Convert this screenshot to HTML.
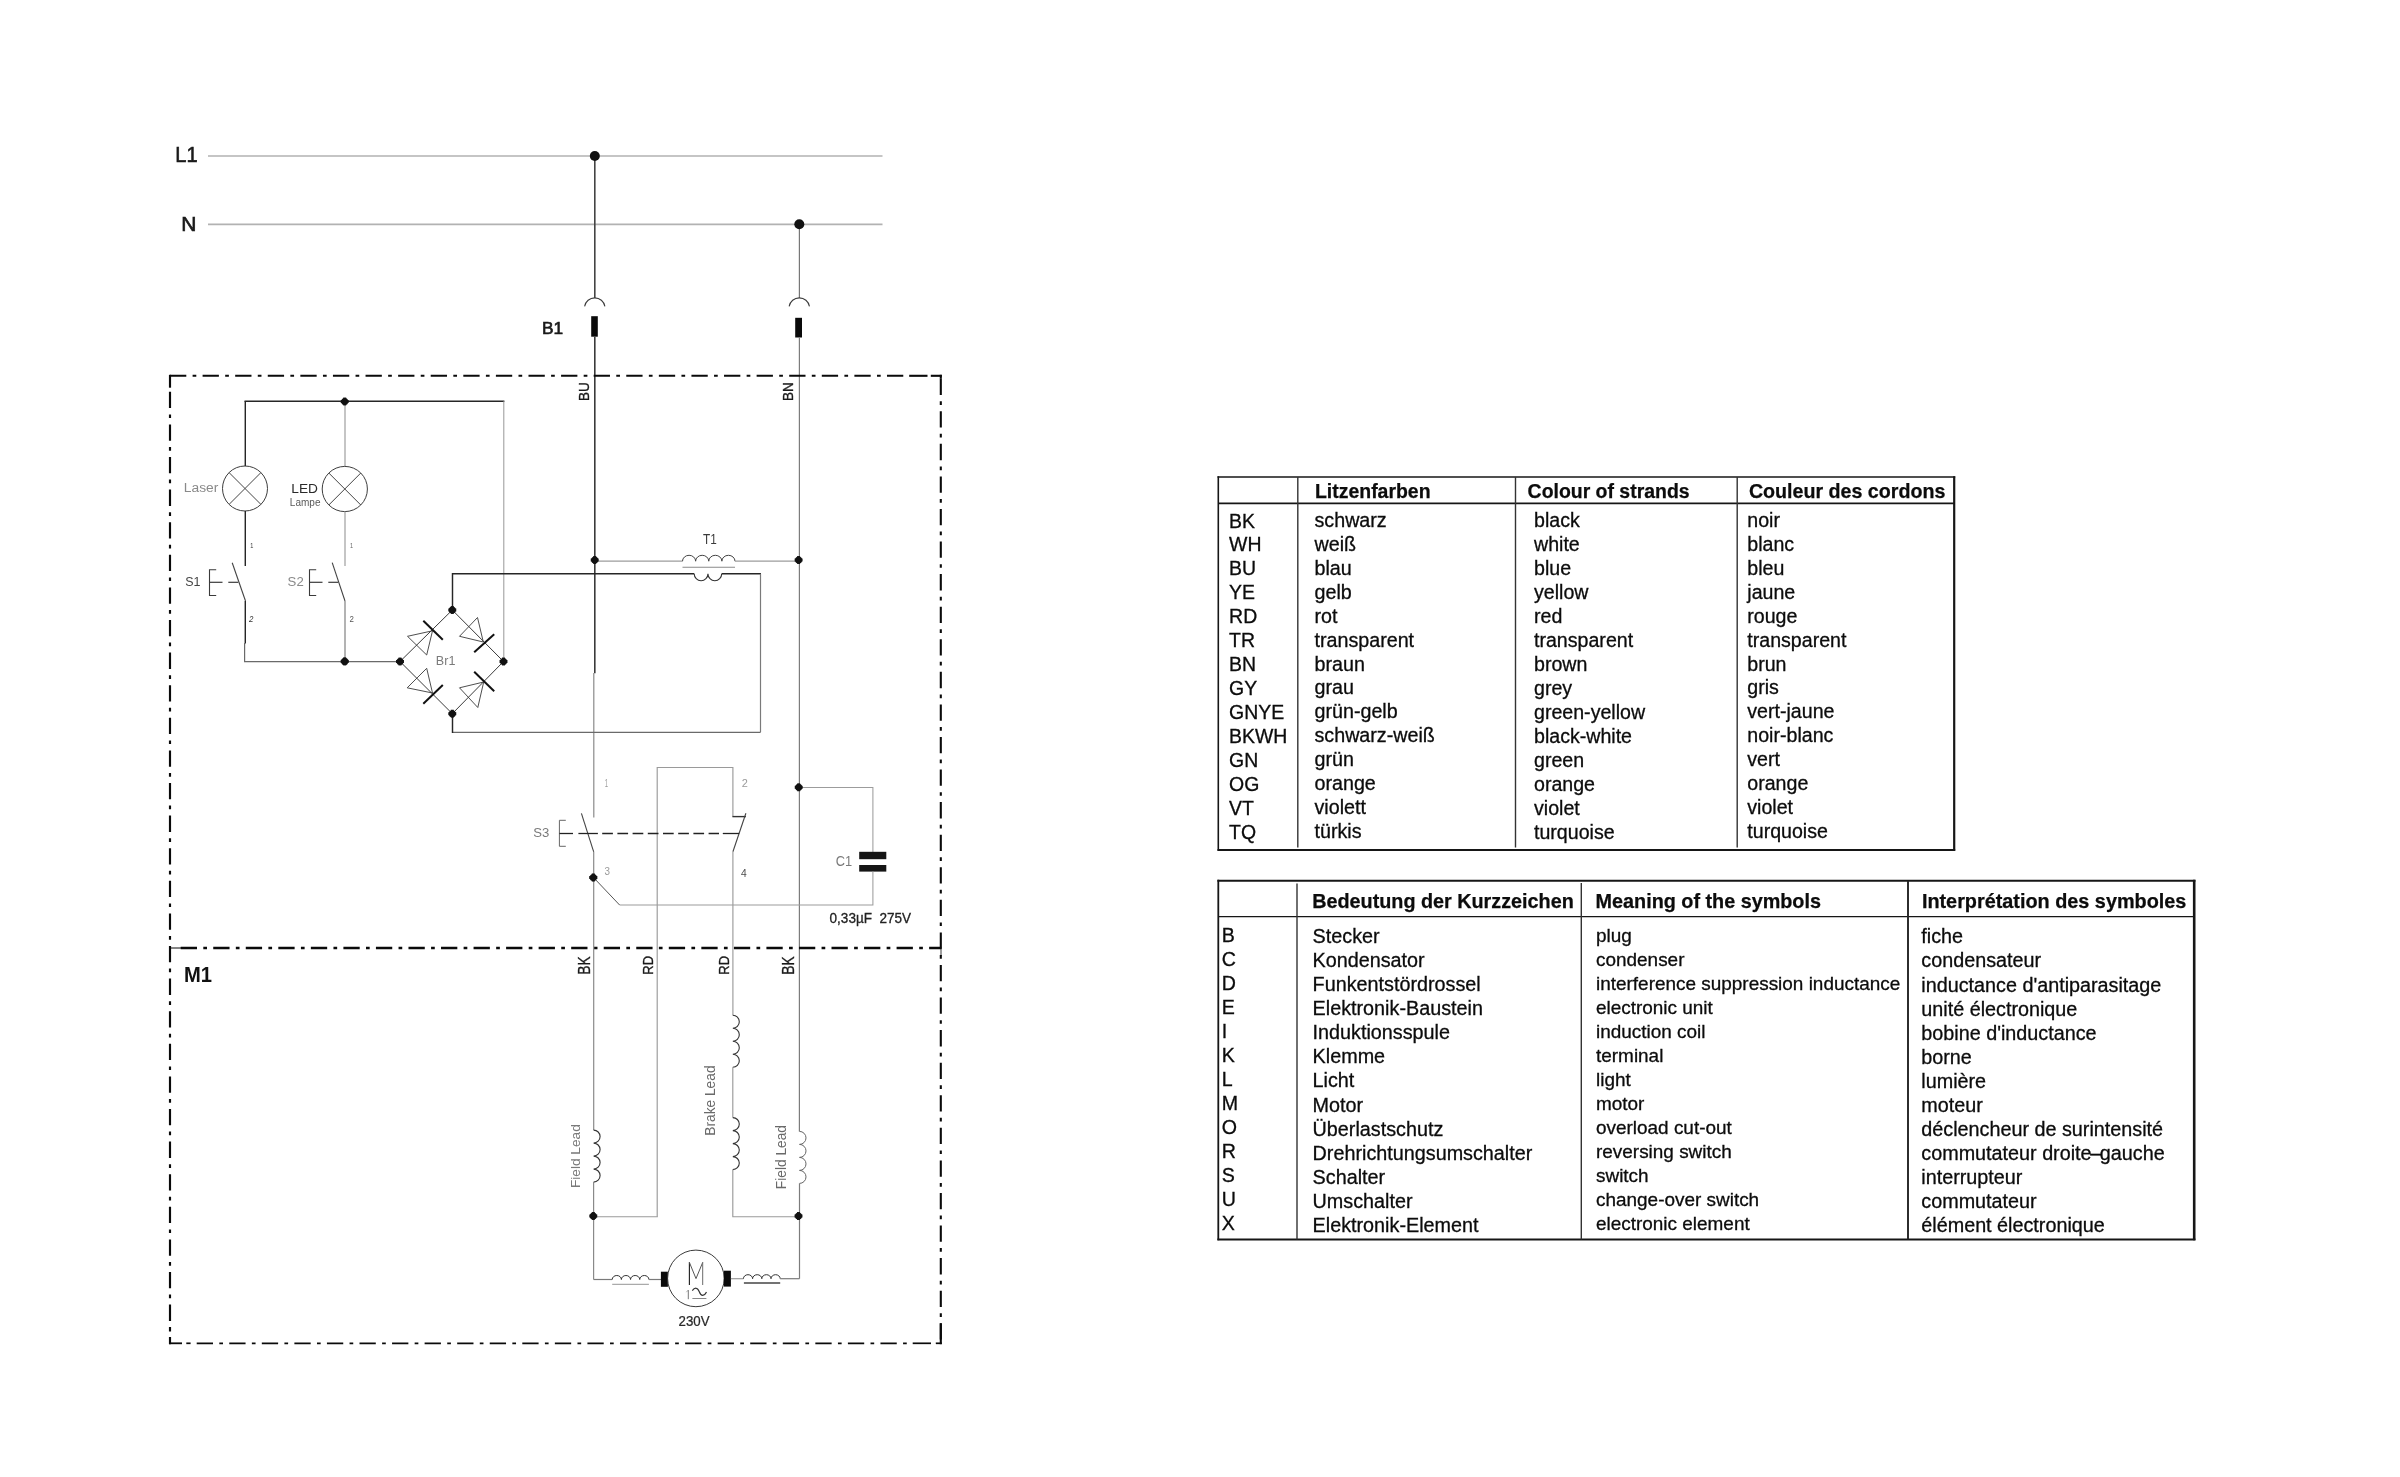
<!DOCTYPE html>
<html><head><meta charset="utf-8"><title>Wiring diagram</title>
<style>
html,body{margin:0;padding:0;background:#fff;}
body{width:2400px;height:1477px;overflow:hidden;font-family:"Liberation Sans",sans-serif;}
svg{display:block;position:absolute;left:0;top:0;will-change:transform;}
svg text{font-family:"Liberation Sans",sans-serif;white-space:pre;}
</style></head><body>
<svg width="2400" height="1477" viewBox="0 0 2400 1477">
<rect x="0" y="0" width="2400" height="1477" fill="#ffffff"/>
<line x1="208" y1="156" x2="882.5" y2="156" stroke="#b2b2b2" stroke-width="1.7" />
<line x1="208" y1="224.3" x2="882.5" y2="224.3" stroke="#b2b2b2" stroke-width="1.7" />
<line x1="594.8" y1="156" x2="594.8" y2="297.9" stroke="#444" stroke-width="1.6" />
<path d="M584.6 306.4 A10.3 10.3 0 0 1 604.9 306.4" fill="none" stroke="#3a3a3a" stroke-width="1.05" />
<rect x="591.2" y="316.2" width="6.6" height="20.5" fill="#0a0a0a"/>
<line x1="594.8" y1="336.7" x2="594.8" y2="673.3" stroke="#3a3a3a" stroke-width="1.6" />
<line x1="593.8" y1="673" x2="593.8" y2="817.4" stroke="#8a8a8a" stroke-width="1.2" />
<line x1="799.4" y1="224.3" x2="799.4" y2="297.9" stroke="#777" stroke-width="1.2" />
<path d="M789.15 306.4 A10.3 10.3 0 0 1 809.45 306.4" fill="none" stroke="#3a3a3a" stroke-width="1.05" />
<rect x="795.2" y="317.8" width="6.8" height="19.7" fill="#0a0a0a"/>
<line x1="799.4" y1="337.5" x2="799.4" y2="1131.4" stroke="#7c7c7c" stroke-width="1.2" />
<circle cx="594.8" cy="156" r="5" fill="#111"/>
<circle cx="799.3" cy="224.3" r="5" fill="#111"/>
<line x1="170" y1="375.8" x2="903.5" y2="375.8" stroke="#0a0a0a" stroke-width="2.1" stroke-dasharray="16.3 6.3 3.7 6.29"/>
<line x1="909.2" y1="375.8" x2="927.5" y2="375.8" stroke="#0a0a0a" stroke-width="2.1" />
<line x1="930.8" y1="375.8" x2="941.8" y2="375.8" stroke="#0a0a0a" stroke-width="2.1" />
<line x1="170" y1="948" x2="181" y2="948" stroke="#0a0a0a" stroke-width="1.0" />
<line x1="180.7" y1="948" x2="941.3" y2="948" stroke="#0a0a0a" stroke-width="2.3" stroke-dasharray="16.3 6.3 3.7 6.24"/>
<line x1="169" y1="1343.3" x2="182" y2="1343.3" stroke="#0a0a0a" stroke-width="1.8" />
<line x1="186.3" y1="1343.3" x2="190.6" y2="1343.3" stroke="#0a0a0a" stroke-width="1.7" />
<line x1="196.7" y1="1343.3" x2="907.2" y2="1343.3" stroke="#0a0a0a" stroke-width="1.7" stroke-dasharray="16.3 6.3 3.7 6.26"/>
<line x1="912.7" y1="1343.3" x2="931" y2="1343.3" stroke="#0a0a0a" stroke-width="1.7" />
<line x1="935.8" y1="1343.3" x2="941.8" y2="1343.3" stroke="#0a0a0a" stroke-width="1.7" />
<line x1="170" y1="374.8" x2="170" y2="387.7" stroke="#0a0a0a" stroke-width="2.15" />
<line x1="170" y1="391.8" x2="170" y2="1323" stroke="#0a0a0a" stroke-width="2.15" stroke-dasharray="16.3 6.3 3.7 6.3"/>
<line x1="170" y1="1327" x2="170" y2="1331.5" stroke="#0a0a0a" stroke-width="2.15" />
<line x1="170" y1="1337" x2="170" y2="1344.2" stroke="#0a0a0a" stroke-width="2.15" />
<line x1="940.8" y1="374.8" x2="940.8" y2="378.8" stroke="#0a0a0a" stroke-width="2.1" />
<line x1="940.8" y1="378.7" x2="940.8" y2="1344.3" stroke="#0a0a0a" stroke-width="2.1" stroke-dasharray="16.3 6.3 3.7 6.27"/>
<line x1="941" y1="948" x2="941" y2="956" stroke="#0a0a0a" stroke-width="0.8" />
<line x1="940.8" y1="1323.3" x2="940.8" y2="1344.2" stroke="#0a0a0a" stroke-width="2.1" />
<line x1="244.5" y1="401.2" x2="504.4" y2="401.2" stroke="#262626" stroke-width="1.45" />
<line x1="245.3" y1="401.2" x2="245.3" y2="466" stroke="#262626" stroke-width="1.45" />
<circle cx="245" cy="488.5" r="22.5" fill="none" stroke="#333" stroke-width="0.95"/>
<line x1="229.1" y1="472.6" x2="260.9" y2="504.4" stroke="#444" stroke-width="1.0" />
<line x1="229.1" y1="504.4" x2="260.9" y2="472.6" stroke="#444" stroke-width="1.0" />
<line x1="245.3" y1="511" x2="245.3" y2="566" stroke="#262626" stroke-width="1.45" />
<line x1="232.2" y1="562.7" x2="245.5" y2="601" stroke="#444" stroke-width="1.1" />
<line x1="245.3" y1="601" x2="245.3" y2="643.5" stroke="#262626" stroke-width="1.45" />
<polyline points="244.6,643 244.6,661.7 400,661.7" fill="none" stroke="#6a6a6a" stroke-width="1.2" />
<line x1="345" y1="401.2" x2="345" y2="466" stroke="#9a9a9a" stroke-width="1.15" />
<circle cx="344.8" cy="489" r="22.6" fill="none" stroke="#333" stroke-width="0.95"/>
<line x1="328.8" y1="473" x2="360.8" y2="505" stroke="#444" stroke-width="1.0" />
<line x1="328.8" y1="505" x2="360.8" y2="473" stroke="#444" stroke-width="1.0" />
<line x1="345" y1="511.6" x2="345" y2="566" stroke="#9a9a9a" stroke-width="1.15" />
<line x1="332.2" y1="562.7" x2="345" y2="601" stroke="#444" stroke-width="1.1" />
<line x1="345" y1="601" x2="345" y2="661.7" stroke="#8a8a8a" stroke-width="1.3" />
<line x1="503.8" y1="401.2" x2="503.8" y2="661" stroke="#9c9c9c" stroke-width="1.05" />
<circle cx="344.7" cy="401.5" r="3.50" fill="#111"/>
<rect x="340.75" y="400.00" width="7.90" height="3.00" fill="#111"/>
<rect x="343.20" y="397.55" width="3.00" height="7.90" fill="#111"/>
<circle cx="344.7" cy="661.4" r="3.60" fill="#111"/>
<rect x="340.65" y="659.90" width="8.10" height="3.00" fill="#111"/>
<rect x="343.20" y="657.35" width="3.00" height="8.10" fill="#111"/>
<polyline points="216.2,569.7 209.5,569.7 209.5,595.5 216.2,595.5" fill="none" stroke="#3a3a3a" stroke-width="1.1" />
<line x1="209.5" y1="582.3" x2="222.5" y2="582.3" stroke="#3a3a3a" stroke-width="1.2" />
<line x1="228.3" y1="582.3" x2="238.3" y2="582.3" stroke="#3a3a3a" stroke-width="1.2" />
<polyline points="316.2,569.7 309.5,569.7 309.5,595.5 316.2,595.5" fill="none" stroke="#3a3a3a" stroke-width="1.1" />
<line x1="309.5" y1="582.3" x2="322.5" y2="582.3" stroke="#3a3a3a" stroke-width="1.2" />
<line x1="328.3" y1="582.3" x2="338.3" y2="582.3" stroke="#3a3a3a" stroke-width="1.2" />
<polyline points="400,661.5 452.3,610 503.5,661.5 452.3,713.7 400,661.5" fill="none" stroke="#3a3a3a" stroke-width="1.0" />
<polyline points="432.5,630.8 407.5,636.3 426.7,655 432.5,630.8" fill="none" stroke="#3a3a3a" stroke-width="0.9" />
<line x1="423.3" y1="620.8" x2="442.8" y2="639.7" stroke="#111" stroke-width="2.0" />
<polyline points="483.3,642 477.5,617.5 459.5,636.3 483.3,642" fill="none" stroke="#3a3a3a" stroke-width="0.9" />
<line x1="494.2" y1="634.2" x2="474.2" y2="652.2" stroke="#111" stroke-width="2.0" />
<polyline points="432.5,693 426.7,668.3 407.2,687.8 432.5,693" fill="none" stroke="#3a3a3a" stroke-width="0.9" />
<line x1="442.8" y1="685" x2="423.3" y2="703.8" stroke="#111" stroke-width="2.0" />
<polyline points="483.7,682 459.5,687.8 477.8,707.5 483.7,682" fill="none" stroke="#3a3a3a" stroke-width="0.9" />
<line x1="474.2" y1="671.7" x2="494.2" y2="691.3" stroke="#111" stroke-width="2.0" />
<polyline points="452.5,610 452.5,573.8 694.2,573.8" fill="none" stroke="#262626" stroke-width="1.45" />
<path d="M694.2 573.8 a6.875 6.875 0 0 0 13.75 0 a6.875 6.875 0 0 0 13.75 0" fill="none" stroke="#333" stroke-width="1.1" />
<line x1="721.7" y1="573.8" x2="761" y2="573.8" stroke="#262626" stroke-width="1.45" />
<line x1="760.5" y1="573.8" x2="760.5" y2="732.3" stroke="#7a7a7a" stroke-width="1.2" />
<line x1="760.5" y1="732.3" x2="452.5" y2="732.3" stroke="#6a6a6a" stroke-width="1.3" />
<line x1="452.5" y1="733" x2="452.5" y2="713.7" stroke="#262626" stroke-width="1.45" />
<circle cx="400" cy="661.5" r="3.50" fill="#111"/>
<rect x="396.05" y="660.00" width="7.90" height="3.00" fill="#111"/>
<rect x="398.50" y="657.55" width="3.00" height="7.90" fill="#111"/>
<circle cx="452.3" cy="610" r="3.50" fill="#111"/>
<rect x="448.35" y="608.50" width="7.90" height="3.00" fill="#111"/>
<rect x="450.80" y="606.05" width="3.00" height="7.90" fill="#111"/>
<circle cx="503.5" cy="661.5" r="3.50" fill="#111"/>
<rect x="499.55" y="660.00" width="7.90" height="3.00" fill="#111"/>
<rect x="502.00" y="657.55" width="3.00" height="7.90" fill="#111"/>
<circle cx="452.3" cy="713.7" r="3.50" fill="#111"/>
<rect x="448.35" y="712.20" width="7.90" height="3.00" fill="#111"/>
<rect x="450.80" y="709.75" width="3.00" height="7.90" fill="#111"/>
<line x1="594.7" y1="561.2" x2="682.5" y2="561.2" stroke="#9c9c9c" stroke-width="1.3" />
<path d="M682.5 561.2 a6.5625 5.9 0 0 1 13.125 0 a6.5625 5.9 0 0 1 13.125 0 a6.5625 5.9 0 0 1 13.125 0 a6.5625 5.9 0 0 1 13.125 0" fill="none" stroke="#444" stroke-width="1.0" />
<line x1="735" y1="561.2" x2="798.5" y2="561.2" stroke="#9c9c9c" stroke-width="1.3" />
<line x1="682.5" y1="567.3" x2="735" y2="567.3" stroke="#8a8a8a" stroke-width="1.1" />
<circle cx="594.7" cy="560" r="3.50" fill="#111"/>
<rect x="590.75" y="558.50" width="7.90" height="3.00" fill="#111"/>
<rect x="593.20" y="556.05" width="3.00" height="7.90" fill="#111"/>
<circle cx="798.6" cy="560" r="3.50" fill="#111"/>
<rect x="794.65" y="558.50" width="7.90" height="3.00" fill="#111"/>
<rect x="797.10" y="556.05" width="3.00" height="7.90" fill="#111"/>
<line x1="581.4" y1="813.3" x2="593.7" y2="851.8" stroke="#444" stroke-width="1.1" />
<line x1="593.7" y1="851.8" x2="593.7" y2="1130.1" stroke="#8a8a8a" stroke-width="1.2" />
<path d="M593.6 1130.1 a6.5 6.5 0 0 1 0 13 a6.5 6.5 0 0 1 0 13 a6.5 6.5 0 0 1 0 13 a6.5 6.5 0 0 1 0 13" fill="none" stroke="#333" stroke-width="1.1" />
<line x1="593.6" y1="1182.1" x2="593.6" y2="1279.5" stroke="#8a8a8a" stroke-width="1.2" />
<polyline points="657.2,1216.7 657.2,767.5 732.9,767.5 732.9,816.6" fill="none" stroke="#9a9a9a" stroke-width="1.15" />
<line x1="732.4" y1="816.6" x2="745.9" y2="816.6" stroke="#333" stroke-width="1.4" />
<line x1="745.9" y1="813.3" x2="732.9" y2="851.8" stroke="#444" stroke-width="1.1" />
<line x1="732.9" y1="851.8" x2="732.9" y2="1015.2" stroke="#9a9a9a" stroke-width="1.15" />
<path d="M732.8 1015.2 a6.5 6.5 0 0 1 0 13 a6.5 6.5 0 0 1 0 13 a6.5 6.5 0 0 1 0 13 a6.5 6.5 0 0 1 0 13" fill="none" stroke="#333" stroke-width="1.1" />
<line x1="732.8" y1="1067.2" x2="732.8" y2="1117.6" stroke="#9a9a9a" stroke-width="1.15" />
<path d="M732.8 1117.6 a6.5 6.5 0 0 1 0 13 a6.5 6.5 0 0 1 0 13 a6.5 6.5 0 0 1 0 13 a6.5 6.5 0 0 1 0 13" fill="none" stroke="#333" stroke-width="1.1" />
<polyline points="732.8,1169.6 732.8,1216.7 799,1216.7" fill="none" stroke="#9a9a9a" stroke-width="1.15" />
<line x1="593.6" y1="1216.7" x2="657.8" y2="1216.7" stroke="#9a9a9a" stroke-width="1.15" />
<path d="M799.5 1131.4 a6.5 6.5 0 0 1 0 13 a6.5 6.5 0 0 1 0 13 a6.5 6.5 0 0 1 0 13 a6.5 6.5 0 0 1 0 13" fill="none" stroke="#666" stroke-width="1.0" />
<line x1="799.5" y1="1183.4" x2="799.5" y2="1278.7" stroke="#7c7c7c" stroke-width="1.2" />
<circle cx="593.3" cy="1216" r="3.50" fill="#111"/>
<rect x="589.35" y="1214.50" width="7.90" height="3.00" fill="#111"/>
<rect x="591.80" y="1212.05" width="3.00" height="7.90" fill="#111"/>
<circle cx="798.5" cy="1216" r="3.50" fill="#111"/>
<rect x="794.55" y="1214.50" width="7.90" height="3.00" fill="#111"/>
<rect x="797.00" y="1212.05" width="3.00" height="7.90" fill="#111"/>
<polyline points="565.8,820.3 559.4,820.3 559.4,846.3 565.8,846.3" fill="none" stroke="#666" stroke-width="1.0" />
<line x1="559.4" y1="833.5" x2="573" y2="833.5" stroke="#222" stroke-width="1.3" />
<line x1="578.4" y1="833.5" x2="597.9" y2="833.5" stroke="#222" stroke-width="1.3" />
<line x1="602.2" y1="833.5" x2="719" y2="833.5" stroke="#222" stroke-width="1.3" stroke-dasharray="10.7 4.5"/>
<line x1="722.8" y1="833.5" x2="739.2" y2="833.5" stroke="#222" stroke-width="1.3" />
<polyline points="799,787.5 872.9,787.5 872.9,852" fill="none" stroke="#9c9c9c" stroke-width="1.05" />
<rect x="859.2" y="851.8" width="27.1" height="7.4" fill="#151515"/>
<rect x="859.2" y="865" width="27.1" height="6.6" fill="#151515"/>
<polyline points="872.9,871.5 872.9,905 619.6,905" fill="none" stroke="#9c9c9c" stroke-width="1.05" />
<line x1="619.6" y1="905" x2="593.5" y2="877.5" stroke="#555" stroke-width="1.0" />
<circle cx="798.7" cy="787.3" r="3.50" fill="#111"/>
<rect x="794.75" y="785.80" width="7.90" height="3.00" fill="#111"/>
<rect x="797.20" y="783.35" width="3.00" height="7.90" fill="#111"/>
<circle cx="593.3" cy="877.5" r="3.60" fill="#111"/>
<rect x="589.25" y="876.00" width="8.10" height="3.00" fill="#111"/>
<rect x="591.80" y="873.45" width="3.00" height="8.10" fill="#111"/>
<line x1="593.6" y1="1279.5" x2="612.2" y2="1279.5" stroke="#7a7a7a" stroke-width="1.2" />
<path d="M612.2 1279.5 a4.5875 4.0 0 0 1 9.175 0 a4.5875 4.0 0 0 1 9.175 0 a4.5875 4.0 0 0 1 9.175 0 a4.5875 4.0 0 0 1 9.175 0" fill="none" stroke="#333" stroke-width="1.0" />
<line x1="648.9" y1="1279.5" x2="661" y2="1279.5" stroke="#7a7a7a" stroke-width="1.2" />
<line x1="612.2" y1="1284.4" x2="648.9" y2="1284.4" stroke="#aaa" stroke-width="1.2" />
<rect x="660.9" y="1271.7" width="7.0" height="15.1" fill="#0a0a0a"/>
<circle cx="695.9" cy="1278.4" r="28.3" fill="none" stroke="#3a3a3a" stroke-width="1.0"/>
<rect x="723.9" y="1270.7" width="7.0" height="15.9" fill="#0a0a0a"/>
<line x1="730.9" y1="1278.7" x2="743.4" y2="1278.7" stroke="#9a9a9a" stroke-width="1.2" />
<path d="M743.4 1278.7 a4.6 4.0 0 0 1 9.2 0 a4.6 4.0 0 0 1 9.2 0 a4.6 4.0 0 0 1 9.2 0 a4.6 4.0 0 0 1 9.2 0" fill="none" stroke="#333" stroke-width="1.0" />
<line x1="780.2" y1="1278.7" x2="799.5" y2="1278.7" stroke="#7a7a7a" stroke-width="1.2" />
<line x1="743.9" y1="1283.1" x2="780.2" y2="1283.1" stroke="#444" stroke-width="1.5" />
<line x1="689.4" y1="1285" x2="689.4" y2="1262.2" stroke="#222" stroke-width="1.15" />
<polyline points="689.4,1262.4 696.0,1278.6 702.7,1262.4" fill="none" stroke="#555" stroke-width="1.0" />
<line x1="702.7" y1="1262.2" x2="702.7" y2="1285" stroke="#6a6a6a" stroke-width="1.0" />
<line x1="688.3" y1="1290" x2="688.3" y2="1299.2" stroke="#777" stroke-width="1.0" />
<line x1="686.4" y1="1292.2" x2="688.3" y2="1290" stroke="#999" stroke-width="0.8" />
<path d="M692.3 1290.6 Q694 1288.1 696 1288.2 Q698 1288.4 699.3 1291.8 Q700.6 1295.3 702.7 1295.4 Q704.9 1295.3 706.5 1292.1" fill="none" stroke="#333" stroke-width="1.15" />
<line x1="692.4" y1="1298.5" x2="706.4" y2="1298.5" stroke="#888" stroke-width="1.0" />
<text transform="translate(176.90 161.60) scale(0.9466 1)" x="-1.75" y="0" font-size="21.24" fill="#1a1a1a" stroke="#1a1a1a" stroke-width="0.6" >L1</text>
<text transform="translate(183.10 230.90) scale(1.0090 1)" x="-1.72" y="0" font-size="20.80" fill="#1a1a1a" stroke="#1a1a1a" stroke-width="0.7" >N</text>
<text transform="translate(543.50 334.00) scale(1.0165 1)" x="-1.40" y="0" font-size="17.02" fill="#1a1a1a" stroke="#1a1a1a" stroke-width="0.65" >B1</text>
<text transform="translate(589.10 399.80) rotate(-90) scale(0.8753 1)" x="-1.27" y="0" font-size="15.42" fill="#1a1a1a" stroke="#1a1a1a" stroke-width="0.35" >BU</text>
<text transform="translate(793.20 399.80) rotate(-90) scale(0.8873 1)" x="-1.26" y="0" font-size="15.27" fill="#1a1a1a" stroke="#1a1a1a" stroke-width="0.35" >BN</text>
<text transform="translate(590.10 973.60) rotate(-90) scale(0.8698 1)" x="-1.31" y="0" font-size="15.85" fill="#1a1a1a" stroke="#1a1a1a" stroke-width="0.35" >BK</text>
<text transform="translate(652.80 973.60) rotate(-90) scale(0.8355 1)" x="-1.28" y="0" font-size="15.56" fill="#1a1a1a" stroke="#1a1a1a" stroke-width="0.35" >RD</text>
<text transform="translate(729.30 973.60) rotate(-90) scale(0.8355 1)" x="-1.28" y="0" font-size="15.56" fill="#1a1a1a" stroke="#1a1a1a" stroke-width="0.35" >RD</text>
<text transform="translate(794.40 973.60) rotate(-90) scale(0.8465 1)" x="-1.34" y="0" font-size="16.29" fill="#1a1a1a" stroke="#1a1a1a" stroke-width="0.35" >BK</text>
<text transform="translate(185.30 981.90) scale(0.9074 1)" x="-1.50" y="0" font-size="22.25" fill="#111" font-weight="bold" >M1</text>
<text transform="translate(184.90 492.20) scale(1.1047 1)" x="-1.03" y="0" font-size="12.51" fill="#8a8a8a" >Laser</text>
<text transform="translate(292.40 493.00) scale(1.0034 1)" x="-1.13" y="0" font-size="13.67" fill="#2a2a2a" >LED</text>
<text transform="translate(290.70 506.00) scale(0.9314 1)" x="-0.89" y="0" font-size="10.76" fill="#5a5a5a" >Lampe</text>
<text transform="translate(185.70 586.40) scale(0.9161 1)" x="-0.61" y="0" font-size="13.62" fill="#444" >S1</text>
<text transform="translate(288.20 586.40) scale(0.9703 1)" x="-0.61" y="0" font-size="13.62" fill="#8a8a8a" >S2</text>
<text transform="translate(250.60 548.00) scale(0.7065 1)" x="-0.59" y="0" font-size="7.85" fill="#333" >1</text>
<text transform="translate(350.40 548.00) scale(0.7065 1)" x="-0.59" y="0" font-size="7.85" fill="#666" >1</text>
<text transform="translate(249.40 622.00) scale(0.9198 1)" x="-0.43" y="0" font-size="8.60" fill="#333" font-style="italic">2</text>
<text transform="translate(349.80 622.00) scale(0.9198 1)" x="-0.43" y="0" font-size="8.60" fill="#555" >2</text>
<text transform="translate(436.90 664.50) scale(1.0042 1)" x="-1.03" y="0" font-size="12.51" fill="#7a7a7a" >Br1</text>
<text transform="translate(703.20 544.20) scale(0.8181 1)" x="-0.32" y="0" font-size="14.40" fill="#3a3a3a" >T1</text>
<text transform="translate(533.90 837.20) scale(0.9953 1)" x="-0.59" y="0" font-size="13.19" fill="#7a7a7a" >S3</text>
<text transform="translate(605.30 787.30) scale(0.5662 1)" x="-0.80" y="0" font-size="10.62" fill="#9a9a9a" >1</text>
<text transform="translate(742.40 787.30) scale(1.0500 1)" x="-0.52" y="0" font-size="10.47" fill="#9a9a9a" >2</text>
<text transform="translate(604.90 875.00) scale(0.9586 1)" x="-0.39" y="0" font-size="10.32" fill="#9a9a9a" >3</text>
<text transform="translate(741.20 876.60) scale(0.9832 1)" x="-0.24" y="0" font-size="10.47" fill="#4a4a4a" >4</text>
<text transform="translate(836.50 865.60) scale(0.9202 1)" x="-0.70" y="0" font-size="13.91" fill="#7a7a7a" >C1</text>
<text transform="translate(830.10 923.30) scale(0.9641 1)" x="-0.56" y="0" font-size="14.05" fill="#222" stroke="#222" stroke-width="0.3" >0,33µF  275V</text>
<text transform="translate(579.80 1187.00) rotate(-90) scale(1.0241 1)" x="-1.10" y="0" font-size="13.38" fill="#7a7a7a" >Field Lead</text>
<text transform="translate(715.20 1134.60) rotate(-90) scale(0.9316 1)" x="-1.22" y="0" font-size="14.76" fill="#6a6a6a" >Brake Lead</text>
<text transform="translate(785.60 1188.00) rotate(-90) scale(0.9314 1)" x="-1.22" y="0" font-size="14.76" fill="#6a6a6a" >Field Lead</text>
<text transform="translate(679.20 1325.90) scale(0.9363 1)" x="-0.71" y="0" font-size="14.19" fill="#2a2a2a" stroke="#2a2a2a" stroke-width="0.25" >230V</text>
<line x1="1218.3" y1="476.3" x2="1218.3" y2="850.8" stroke="#161616" stroke-width="1.6" />
<line x1="1217.5" y1="477" x2="1955.2" y2="477" stroke="#161616" stroke-width="1.6" />
<line x1="1954.2" y1="476.3" x2="1954.2" y2="850.8" stroke="#161616" stroke-width="2.2" />
<line x1="1217.5" y1="850" x2="1955.2" y2="850" stroke="#161616" stroke-width="1.8" />
<line x1="1218.3" y1="503.3" x2="1954.2" y2="503.3" stroke="#161616" stroke-width="1.8" />
<line x1="1297.8" y1="477" x2="1297.8" y2="847.5" stroke="#333" stroke-width="1.4" />
<line x1="1515.5" y1="477" x2="1515.5" y2="847.5" stroke="#333" stroke-width="1.4" />
<line x1="1737.2" y1="477" x2="1737.2" y2="847.5" stroke="#333" stroke-width="1.4" />
<line x1="1218.3" y1="879.8" x2="1218.3" y2="1240.3" stroke="#161616" stroke-width="1.8" />
<line x1="1217.4" y1="880.8" x2="2195.4" y2="880.8" stroke="#161616" stroke-width="2.1" />
<line x1="2194.2" y1="879.8" x2="2194.2" y2="1240.3" stroke="#161616" stroke-width="2.6" />
<line x1="1217.4" y1="1239.5" x2="2195.4" y2="1239.5" stroke="#161616" stroke-width="1.9" />
<line x1="1218.3" y1="916.7" x2="2194.2" y2="916.7" stroke="#161616" stroke-width="1.3" />
<line x1="1297" y1="883.5" x2="1297" y2="1239.5" stroke="#333" stroke-width="1.4" />
<line x1="1581.3" y1="883" x2="1581.3" y2="1239.5" stroke="#333" stroke-width="1.4" />
<line x1="1908" y1="881" x2="1908" y2="1239.5" stroke="#222" stroke-width="1.9" />
<text x="1315.0" y="498" font-size="19.45" fill="#0c0c0c" font-weight="bold" stroke="#0c0c0c" stroke-width="0.25" >Litzenfarben</text>
<text x="1527.6" y="498" font-size="19.45" fill="#0c0c0c" font-weight="bold" stroke="#0c0c0c" stroke-width="0.25" >Colour of strands</text>
<text x="1748.9" y="498.3" font-size="19.65" fill="#0c0c0c" font-weight="bold" stroke="#0c0c0c" stroke-width="0.25" >Couleur des cordons</text>
<text x="1229.1" y="527.5" font-size="19.45" fill="#0c0c0c" stroke="#0c0c0c" stroke-width="0.3" >BK</text>
<text x="1314.5" y="526.7" font-size="19.7" fill="#0c0c0c" stroke="#0c0c0c" stroke-width="0.3" >schwarz</text>
<text x="1534.0" y="527.1" font-size="19.6" fill="#0c0c0c" stroke="#0c0c0c" stroke-width="0.3" >black</text>
<text x="1747.3" y="526.7" font-size="19.6" fill="#0c0c0c" stroke="#0c0c0c" stroke-width="0.3" >noir</text>
<text x="1229.1" y="551.48" font-size="19.45" fill="#0c0c0c" stroke="#0c0c0c" stroke-width="0.3" >WH</text>
<text x="1314.5" y="550.67" font-size="19.7" fill="#0c0c0c" stroke="#0c0c0c" stroke-width="0.3" >weiß</text>
<text x="1534.0" y="551.07" font-size="19.6" fill="#0c0c0c" stroke="#0c0c0c" stroke-width="0.3" >white</text>
<text x="1747.3" y="550.67" font-size="19.6" fill="#0c0c0c" stroke="#0c0c0c" stroke-width="0.3" >blanc</text>
<text x="1229.1" y="575.46" font-size="19.45" fill="#0c0c0c" stroke="#0c0c0c" stroke-width="0.3" >BU</text>
<text x="1314.5" y="574.64" font-size="19.7" fill="#0c0c0c" stroke="#0c0c0c" stroke-width="0.3" >blau</text>
<text x="1534.0" y="575.04" font-size="19.6" fill="#0c0c0c" stroke="#0c0c0c" stroke-width="0.3" >blue</text>
<text x="1747.3" y="574.64" font-size="19.6" fill="#0c0c0c" stroke="#0c0c0c" stroke-width="0.3" >bleu</text>
<text x="1229.1" y="599.44" font-size="19.45" fill="#0c0c0c" stroke="#0c0c0c" stroke-width="0.3" >YE</text>
<text x="1314.5" y="598.61" font-size="19.7" fill="#0c0c0c" stroke="#0c0c0c" stroke-width="0.3" >gelb</text>
<text x="1534.0" y="599.01" font-size="19.6" fill="#0c0c0c" stroke="#0c0c0c" stroke-width="0.3" >yellow</text>
<text x="1747.3" y="598.61" font-size="19.6" fill="#0c0c0c" stroke="#0c0c0c" stroke-width="0.3" >jaune</text>
<text x="1229.1" y="623.42" font-size="19.45" fill="#0c0c0c" stroke="#0c0c0c" stroke-width="0.3" >RD</text>
<text x="1314.5" y="622.58" font-size="19.7" fill="#0c0c0c" stroke="#0c0c0c" stroke-width="0.3" >rot</text>
<text x="1534.0" y="622.98" font-size="19.6" fill="#0c0c0c" stroke="#0c0c0c" stroke-width="0.3" >red</text>
<text x="1747.3" y="622.58" font-size="19.6" fill="#0c0c0c" stroke="#0c0c0c" stroke-width="0.3" >rouge</text>
<text x="1229.1" y="647.4" font-size="19.45" fill="#0c0c0c" stroke="#0c0c0c" stroke-width="0.3" >TR</text>
<text x="1314.5" y="646.55" font-size="19.7" fill="#0c0c0c" stroke="#0c0c0c" stroke-width="0.3" >transparent</text>
<text x="1534.0" y="646.95" font-size="19.6" fill="#0c0c0c" stroke="#0c0c0c" stroke-width="0.3" >transparent</text>
<text x="1747.3" y="646.55" font-size="19.6" fill="#0c0c0c" stroke="#0c0c0c" stroke-width="0.3" >transparent</text>
<text x="1229.1" y="671.38" font-size="19.45" fill="#0c0c0c" stroke="#0c0c0c" stroke-width="0.3" >BN</text>
<text x="1314.5" y="670.52" font-size="19.7" fill="#0c0c0c" stroke="#0c0c0c" stroke-width="0.3" >braun</text>
<text x="1534.0" y="670.92" font-size="19.6" fill="#0c0c0c" stroke="#0c0c0c" stroke-width="0.3" >brown</text>
<text x="1747.3" y="670.52" font-size="19.6" fill="#0c0c0c" stroke="#0c0c0c" stroke-width="0.3" >brun</text>
<text x="1229.1" y="695.36" font-size="19.45" fill="#0c0c0c" stroke="#0c0c0c" stroke-width="0.3" >GY</text>
<text x="1314.5" y="694.49" font-size="19.7" fill="#0c0c0c" stroke="#0c0c0c" stroke-width="0.3" >grau</text>
<text x="1534.0" y="694.89" font-size="19.6" fill="#0c0c0c" stroke="#0c0c0c" stroke-width="0.3" >grey</text>
<text x="1747.3" y="694.49" font-size="19.6" fill="#0c0c0c" stroke="#0c0c0c" stroke-width="0.3" >gris</text>
<text x="1229.1" y="719.34" font-size="19.45" fill="#0c0c0c" stroke="#0c0c0c" stroke-width="0.3" >GNYE</text>
<text x="1314.5" y="718.46" font-size="19.7" fill="#0c0c0c" stroke="#0c0c0c" stroke-width="0.3" >grün-gelb</text>
<text x="1534.0" y="718.86" font-size="19.6" fill="#0c0c0c" stroke="#0c0c0c" stroke-width="0.3" >green-yellow</text>
<text x="1747.3" y="718.46" font-size="19.6" fill="#0c0c0c" stroke="#0c0c0c" stroke-width="0.3" >vert-jaune</text>
<text x="1229.1" y="743.32" font-size="19.45" fill="#0c0c0c" stroke="#0c0c0c" stroke-width="0.3" >BKWH</text>
<text x="1314.5" y="742.43" font-size="19.7" fill="#0c0c0c" stroke="#0c0c0c" stroke-width="0.3" >schwarz-weiß</text>
<text x="1534.0" y="742.83" font-size="19.6" fill="#0c0c0c" stroke="#0c0c0c" stroke-width="0.3" >black-white</text>
<text x="1747.3" y="742.43" font-size="19.6" fill="#0c0c0c" stroke="#0c0c0c" stroke-width="0.3" >noir-blanc</text>
<text x="1229.1" y="767.3" font-size="19.45" fill="#0c0c0c" stroke="#0c0c0c" stroke-width="0.3" >GN</text>
<text x="1314.5" y="766.4" font-size="19.7" fill="#0c0c0c" stroke="#0c0c0c" stroke-width="0.3" >grün</text>
<text x="1534.0" y="766.8" font-size="19.6" fill="#0c0c0c" stroke="#0c0c0c" stroke-width="0.3" >green</text>
<text x="1747.3" y="766.4" font-size="19.6" fill="#0c0c0c" stroke="#0c0c0c" stroke-width="0.3" >vert</text>
<text x="1229.1" y="791.28" font-size="19.45" fill="#0c0c0c" stroke="#0c0c0c" stroke-width="0.3" >OG</text>
<text x="1314.5" y="790.37" font-size="19.7" fill="#0c0c0c" stroke="#0c0c0c" stroke-width="0.3" >orange</text>
<text x="1534.0" y="790.77" font-size="19.6" fill="#0c0c0c" stroke="#0c0c0c" stroke-width="0.3" >orange</text>
<text x="1747.3" y="790.37" font-size="19.6" fill="#0c0c0c" stroke="#0c0c0c" stroke-width="0.3" >orange</text>
<text x="1229.1" y="815.26" font-size="19.45" fill="#0c0c0c" stroke="#0c0c0c" stroke-width="0.3" >VT</text>
<text x="1314.5" y="814.34" font-size="19.7" fill="#0c0c0c" stroke="#0c0c0c" stroke-width="0.3" >violett</text>
<text x="1534.0" y="814.74" font-size="19.6" fill="#0c0c0c" stroke="#0c0c0c" stroke-width="0.3" >violet</text>
<text x="1747.3" y="814.34" font-size="19.6" fill="#0c0c0c" stroke="#0c0c0c" stroke-width="0.3" >violet</text>
<text x="1229.1" y="839.24" font-size="19.45" fill="#0c0c0c" stroke="#0c0c0c" stroke-width="0.3" >TQ</text>
<text x="1314.5" y="838.31" font-size="19.7" fill="#0c0c0c" stroke="#0c0c0c" stroke-width="0.3" >türkis</text>
<text x="1534.0" y="838.71" font-size="19.6" fill="#0c0c0c" stroke="#0c0c0c" stroke-width="0.3" >turquoise</text>
<text x="1747.3" y="838.31" font-size="19.6" fill="#0c0c0c" stroke="#0c0c0c" stroke-width="0.3" >turquoise</text>
<text x="1312.2" y="908.3" font-size="19.8" fill="#0c0c0c" font-weight="bold" stroke="#0c0c0c" stroke-width="0.25" >Bedeutung der Kurzzeichen</text>
<text x="1595.6" y="907.6" font-size="19.8" fill="#0c0c0c" font-weight="bold" stroke="#0c0c0c" stroke-width="0.25" >Meaning of the symbols</text>
<text x="1921.9" y="907.6" font-size="19.83" fill="#0c0c0c" font-weight="bold" stroke="#0c0c0c" stroke-width="0.25" >Interprétation des symboles</text>
<text x="1221.7" y="941.7" font-size="19.6" fill="#0c0c0c" stroke="#0c0c0c" stroke-width="0.3" >B</text>
<text x="1312.6" y="943.3" font-size="19.78" fill="#0c0c0c" stroke="#0c0c0c" stroke-width="0.3" >Stecker</text>
<text x="1596.0" y="941.7" font-size="18.96" fill="#0c0c0c" stroke="#0c0c0c" stroke-width="0.3" >plug</text>
<text x="1921.3" y="943.45" font-size="19.78" fill="#0c0c0c" stroke="#0c0c0c" stroke-width="0.3" >fiche</text>
<text x="1221.7" y="965.73" font-size="19.6" fill="#0c0c0c" stroke="#0c0c0c" stroke-width="0.3" >C</text>
<text x="1312.6" y="967.33" font-size="19.78" fill="#0c0c0c" stroke="#0c0c0c" stroke-width="0.3" >Kondensator</text>
<text x="1596.0" y="965.73" font-size="18.96" fill="#0c0c0c" stroke="#0c0c0c" stroke-width="0.3" >condenser</text>
<text x="1921.3" y="967.48" font-size="19.78" fill="#0c0c0c" stroke="#0c0c0c" stroke-width="0.3" >condensateur</text>
<text x="1221.7" y="989.76" font-size="19.6" fill="#0c0c0c" stroke="#0c0c0c" stroke-width="0.3" >D</text>
<text x="1312.6" y="991.36" font-size="19.78" fill="#0c0c0c" stroke="#0c0c0c" stroke-width="0.3" >Funkentstördrossel</text>
<text x="1596.0" y="989.76" font-size="18.96" fill="#0c0c0c" stroke="#0c0c0c" stroke-width="0.3" >interference suppression inductance</text>
<text x="1921.3" y="991.51" font-size="19.78" fill="#0c0c0c" stroke="#0c0c0c" stroke-width="0.3" >inductance d'antiparasitage</text>
<text x="1221.7" y="1013.79" font-size="19.6" fill="#0c0c0c" stroke="#0c0c0c" stroke-width="0.3" >E</text>
<text x="1312.6" y="1015.39" font-size="19.78" fill="#0c0c0c" stroke="#0c0c0c" stroke-width="0.3" >Elektronik-Baustein</text>
<text x="1596.0" y="1013.79" font-size="18.96" fill="#0c0c0c" stroke="#0c0c0c" stroke-width="0.3" >electronic unit</text>
<text x="1921.3" y="1015.54" font-size="19.78" fill="#0c0c0c" stroke="#0c0c0c" stroke-width="0.3" >unité électronique</text>
<text x="1221.7" y="1037.82" font-size="19.6" fill="#0c0c0c" stroke="#0c0c0c" stroke-width="0.3" >I</text>
<text x="1312.6" y="1039.42" font-size="19.78" fill="#0c0c0c" stroke="#0c0c0c" stroke-width="0.3" >Induktionsspule</text>
<text x="1596.0" y="1037.82" font-size="18.96" fill="#0c0c0c" stroke="#0c0c0c" stroke-width="0.3" >induction coil</text>
<text x="1921.3" y="1039.57" font-size="19.78" fill="#0c0c0c" stroke="#0c0c0c" stroke-width="0.3" >bobine d'inductance</text>
<text x="1221.7" y="1061.85" font-size="19.6" fill="#0c0c0c" stroke="#0c0c0c" stroke-width="0.3" >K</text>
<text x="1312.6" y="1063.45" font-size="19.78" fill="#0c0c0c" stroke="#0c0c0c" stroke-width="0.3" >Klemme</text>
<text x="1596.0" y="1061.85" font-size="18.96" fill="#0c0c0c" stroke="#0c0c0c" stroke-width="0.3" >terminal</text>
<text x="1921.3" y="1063.6" font-size="19.78" fill="#0c0c0c" stroke="#0c0c0c" stroke-width="0.3" >borne</text>
<text x="1221.7" y="1085.88" font-size="19.6" fill="#0c0c0c" stroke="#0c0c0c" stroke-width="0.3" >L</text>
<text x="1312.6" y="1087.48" font-size="19.78" fill="#0c0c0c" stroke="#0c0c0c" stroke-width="0.3" >Licht</text>
<text x="1596.0" y="1085.88" font-size="18.96" fill="#0c0c0c" stroke="#0c0c0c" stroke-width="0.3" >light</text>
<text x="1921.3" y="1087.63" font-size="19.78" fill="#0c0c0c" stroke="#0c0c0c" stroke-width="0.3" >lumière</text>
<text x="1221.7" y="1109.91" font-size="19.6" fill="#0c0c0c" stroke="#0c0c0c" stroke-width="0.3" >M</text>
<text x="1312.6" y="1111.51" font-size="19.78" fill="#0c0c0c" stroke="#0c0c0c" stroke-width="0.3" >Motor</text>
<text x="1596.0" y="1109.91" font-size="18.96" fill="#0c0c0c" stroke="#0c0c0c" stroke-width="0.3" >motor</text>
<text x="1921.3" y="1111.66" font-size="19.78" fill="#0c0c0c" stroke="#0c0c0c" stroke-width="0.3" >moteur</text>
<text x="1221.7" y="1133.94" font-size="19.6" fill="#0c0c0c" stroke="#0c0c0c" stroke-width="0.3" >O</text>
<text x="1312.6" y="1135.54" font-size="19.78" fill="#0c0c0c" stroke="#0c0c0c" stroke-width="0.3" >Überlastschutz</text>
<text x="1596.0" y="1133.94" font-size="18.96" fill="#0c0c0c" stroke="#0c0c0c" stroke-width="0.3" >overload cut-out</text>
<text x="1921.3" y="1135.69" font-size="19.78" fill="#0c0c0c" stroke="#0c0c0c" stroke-width="0.3" >déclencheur de surintensité</text>
<text x="1221.7" y="1157.97" font-size="19.6" fill="#0c0c0c" stroke="#0c0c0c" stroke-width="0.3" >R</text>
<text x="1312.6" y="1159.57" font-size="19.78" fill="#0c0c0c" stroke="#0c0c0c" stroke-width="0.3" >Drehrichtungsumschalter</text>
<text x="1596.0" y="1157.97" font-size="18.96" fill="#0c0c0c" stroke="#0c0c0c" stroke-width="0.3" >reversing switch</text>
<text x="1921.3" y="1159.72" font-size="19.78" fill="#0c0c0c" stroke="#0c0c0c" stroke-width="0.3" >commutateur droite<tspan dx="-1.3">–</tspan><tspan dx="-1.5">gauche</tspan></text>
<text x="1221.7" y="1182.0" font-size="19.6" fill="#0c0c0c" stroke="#0c0c0c" stroke-width="0.3" >S</text>
<text x="1312.6" y="1183.6" font-size="19.78" fill="#0c0c0c" stroke="#0c0c0c" stroke-width="0.3" >Schalter</text>
<text x="1596.0" y="1182.0" font-size="18.96" fill="#0c0c0c" stroke="#0c0c0c" stroke-width="0.3" >switch</text>
<text x="1921.3" y="1183.75" font-size="19.78" fill="#0c0c0c" stroke="#0c0c0c" stroke-width="0.3" >interrupteur</text>
<text x="1221.7" y="1206.03" font-size="19.6" fill="#0c0c0c" stroke="#0c0c0c" stroke-width="0.3" >U</text>
<text x="1312.6" y="1207.63" font-size="19.78" fill="#0c0c0c" stroke="#0c0c0c" stroke-width="0.3" >Umschalter</text>
<text x="1596.0" y="1206.03" font-size="18.96" fill="#0c0c0c" stroke="#0c0c0c" stroke-width="0.3" >change-over switch</text>
<text x="1921.3" y="1207.78" font-size="19.78" fill="#0c0c0c" stroke="#0c0c0c" stroke-width="0.3" >commutateur</text>
<text x="1221.7" y="1230.06" font-size="19.6" fill="#0c0c0c" stroke="#0c0c0c" stroke-width="0.3" >X</text>
<text x="1312.6" y="1231.66" font-size="19.78" fill="#0c0c0c" stroke="#0c0c0c" stroke-width="0.3" >Elektronik-Element</text>
<text x="1596.0" y="1230.06" font-size="18.96" fill="#0c0c0c" stroke="#0c0c0c" stroke-width="0.3" >electronic element</text>
<text x="1921.3" y="1231.81" font-size="19.78" fill="#0c0c0c" stroke="#0c0c0c" stroke-width="0.3" >élément électronique</text>
</svg>
</body></html>
